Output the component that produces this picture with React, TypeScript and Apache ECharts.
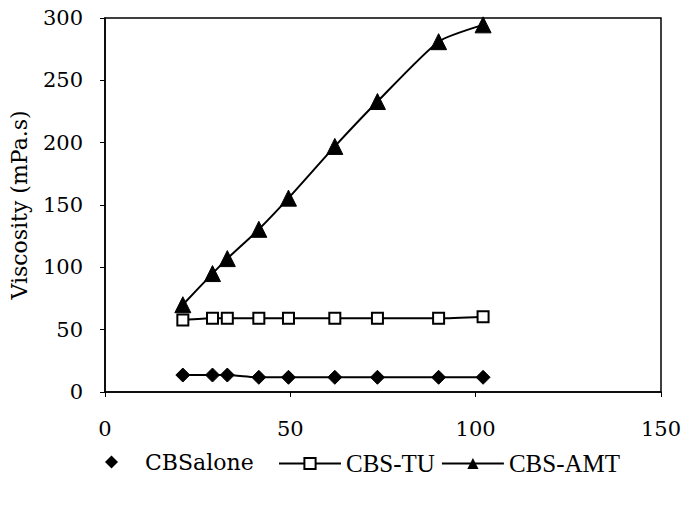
import React, { useEffect, useRef } from "react";
import * as echarts from "echarts";

const xValues = [21, 29, 33, 41.5, 49.5, 62, 73.5, 90, 102];
const cbsAlone = [13.6, 13.6, 13.6, 11.8, 11.8, 11.8, 11.8, 11.8, 11.8];
const cbsTU = [57.8, 59.1, 59.1, 59.1, 59.1, 59.1, 59.1, 59.1, 60.4];
const cbsAMT = [70, 95, 107, 130.5, 155.5, 197, 233, 281, 294.5];
const seriesNames = ["CBSalone", "CBS-TU", "CBS-AMT"];
const xTicks = [0, 50, 100, 150];
const yTicks = [0, 50, 100, 150, 200, 250, 300];

const pair = (ys: number[]) => xValues.map((x, i) => [x, ys[i]]);

export default function App() {
  const ref = useRef<HTMLDivElement>(null);
  useEffect(() => {
    if (!ref.current) return;
    const chart = echarts.init(ref.current, undefined, { renderer: "svg" });
    const axisFont = { fontFamily: "DejaVu Serif", fontSize: 21, color: "#000" };
    chart.setOption({
      animation: false,
      backgroundColor: "#fff",
      grid: {
        left: 105,
        top: 18,
        right: 26,
        bottom: 113,
        show: true,
        borderColor: "#000",
        borderWidth: 1.5,
      },
      xAxis: {
        type: "value",
        min: xTicks[0],
        max: xTicks[xTicks.length - 1],
        interval: 50,
        axisLine: { show: true, lineStyle: { color: "#000", width: 1.5 } },
        axisTick: { show: true, inside: false, length: 5, lineStyle: { color: "#000" } },
        splitLine: { show: false },
        axisLabel: { ...axisFont, margin: 26 },
      },
      yAxis: {
        type: "value",
        min: yTicks[0],
        max: yTicks[yTicks.length - 1],
        interval: 50,
        name: "Viscosity (mPa.s)",
        nameLocation: "middle",
        nameGap: 75,
        nameTextStyle: { ...axisFont, fontSize: 22 },
        axisLine: { show: true, lineStyle: { color: "#000", width: 1.5 } },
        axisTick: { show: true, inside: false, length: 5, lineStyle: { color: "#000" } },
        splitLine: { show: false },
        axisLabel: { ...axisFont, margin: 22 },
      },
      legend: [
        {
          data: [{ name: seriesNames[0], icon: "diamond" }],
          left: 100,
          top: 446,
          itemWidth: 13,
          itemHeight: 13,
          textStyle: {
            fontFamily: "DejaVu Serif",
            fontSize: 22,
            color: "#000",
            padding: [0, 0, 0, 22],
          },
        },
        {
          data: [seriesNames[1], seriesNames[2]],
          left: 273,
          top: 446,
          itemWidth: 62,
          itemHeight: 14,
          itemGap: 6,
          textStyle: { fontFamily: "Liberation Serif", fontSize: 25, color: "#000" },
        },
      ],
      series: [
        {
          name: seriesNames[0],
          type: "line",
          data: pair(cbsAlone),
          symbol: "diamond",
          symbolSize: 14,
          smooth: 0.2,
          lineStyle: { color: "#000", width: 2 },
          itemStyle: { color: "#000", borderColor: "#000" },
        },
        {
          name: seriesNames[1],
          type: "line",
          data: pair(cbsTU),
          symbol: "rect",
          symbolSize: 11,
          smooth: 0.2,
          lineStyle: { color: "#000", width: 2 },
          itemStyle: { color: "#fff", borderColor: "#000", borderWidth: 2 },
        },
        {
          name: seriesNames[2],
          type: "line",
          data: pair(cbsAMT),
          symbol: "triangle",
          symbolSize: 16,
          smooth: 0.2,
          lineStyle: { color: "#000", width: 2 },
          itemStyle: { color: "#000", borderColor: "#000" },
        },
      ],
    });
    return () => chart.dispose();
  }, []);
  return <div ref={ref} style={{ width: 687, height: 505, position: "absolute", left: 0, top: 0 }} />;
}
